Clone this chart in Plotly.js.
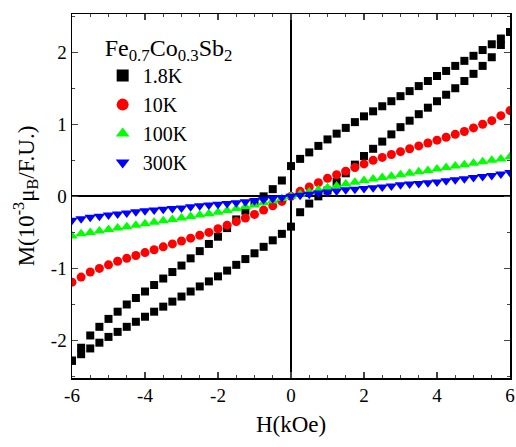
<!DOCTYPE html>
<html><head><script src="https://cdn.plot.ly/plotly-3.0.1.min.js"></script></head>
<body style="margin:0"><div id="g" style="width:516px;height:447px"></div>
<script>
const H=[-6,-5.75,-5.5,-5.25,-5,-4.75,-4.5,-4.25,-4,-3.75,-3.5,-3.25,-3,-2.75,-2.5,-2.25,-2,-1.75,-1.5,-1.25,-1,-0.75,-0.5,-0.25,0,0.25,0.5,0.75,1,1.25,1.5,1.75,2,2.25,2.5,2.75,3,3.25,3.5,3.75,4,4.25,4.5,4.75,5,5.25,5.5,5.75,6];
const m18Down=[-2.28,-2.1,-1.93,-1.81,-1.7,-1.6,-1.5,-1.41,-1.32,-1.23,-1.14,-1.05,-0.96,-0.86,-0.76,-0.66,-0.56,-0.44,-0.32,-0.2,-0.08,0,0.1,0.22,0.42,0.52,0.61,0.7,0.79,0.87,0.95,1.03,1.11,1.18,1.25,1.32,1.39,1.46,1.53,1.6,1.67,1.74,1.81,1.88,1.95,2.03,2.11,2.19,2.28];
const m18Up=[-2.28,-2.19,-2.11,-2.03,-1.95,-1.88,-1.81,-1.74,-1.67,-1.6,-1.53,-1.46,-1.39,-1.32,-1.25,-1.18,-1.11,-1.03,-0.95,-0.87,-0.79,-0.7,-0.61,-0.52,-0.42,-0.22,-0.1,0,0.08,0.2,0.32,0.44,0.56,0.66,0.76,0.86,0.96,1.05,1.14,1.23,1.32,1.41,1.5,1.6,1.7,1.81,1.93,2.1,2.28];
const m10=[-1.19,-1.12,-1.05,-1.0,-0.95,-0.9,-0.86,-0.82,-0.78,-0.74,-0.7,-0.66,-0.62,-0.58,-0.54,-0.5,-0.45,-0.4,-0.35,-0.3,-0.25,-0.19,-0.13,-0.07,0,0.07,0.13,0.19,0.25,0.3,0.35,0.4,0.45,0.5,0.54,0.58,0.62,0.66,0.7,0.74,0.78,0.82,0.86,0.9,0.95,1.0,1.05,1.12,1.19];
const m100=[-0.55,-0.52,-0.5,-0.48,-0.46,-0.44,-0.42,-0.4,-0.38,-0.36,-0.34,-0.32,-0.3,-0.28,-0.26,-0.24,-0.22,-0.195,-0.17,-0.145,-0.12,-0.09,-0.06,-0.03,0,0.03,0.06,0.09,0.12,0.145,0.17,0.195,0.22,0.24,0.26,0.28,0.3,0.32,0.34,0.36,0.38,0.4,0.42,0.44,0.46,0.48,0.5,0.52,0.55];
const m300=[-0.33,-0.31,-0.29,-0.275,-0.26,-0.245,-0.23,-0.215,-0.2,-0.19,-0.18,-0.17,-0.16,-0.145,-0.13,-0.12,-0.11,-0.1,-0.09,-0.075,-0.06,-0.045,-0.03,-0.015,0,0.015,0.03,0.045,0.06,0.075,0.09,0.1,0.11,0.12,0.13,0.145,0.16,0.17,0.18,0.19,0.2,0.215,0.23,0.245,0.26,0.275,0.29,0.31,0.33];
const names=['1.8K','10K','100K','300K'];
const xTicks=[-6,-4,-2,0,2,4,6], xLabels=['-6','-4','-2','0','2','4','6'];
const yTicks=[-2,-1,0,1,2], yLabels=['-2','-1','0','1','2'];
const tr=(x,y,n,c,s,sz)=>({x,y,name:n,mode:'markers',type:'scatter',marker:{color:c,symbol:s,size:sz}});
const data=[
 tr(H.concat(H),m18Down.concat(m18Up),names[0],'black','square',8),
 tr(H,m10,names[1],'red','circle',9),
 tr(H,m100,names[2],'#00ff00','triangle-up',10),
 tr(H,m300,names[3],'blue','triangle-down',10)];
const ax={showline:true,mirror:'ticks',linecolor:'black',linewidth:1.5,ticks:'inside',ticklen:6,tickwidth:1.2,
 zeroline:true,zerolinecolor:'black',zerolinewidth:2,showgrid:false,minor:{ticks:'inside',ticklen:3,tickwidth:1}};
Plotly.newPlot('g',data,{
 width:516,height:447,margin:{l:72,r:6,t:14,b:69},
 font:{family:'Liberation Serif',size:19,color:'black'},
 plot_bgcolor:'white',paper_bgcolor:'white',
 xaxis:Object.assign({},ax,{range:[-6,6],tickvals:xTicks,ticktext:xLabels,title:{text:'H(kOe)',standoff:10}}),
 yaxis:Object.assign({},ax,{range:[-2.52,2.53],tickvals:yTicks,ticktext:yLabels,title:{text:'M(10<sup>-3</sup>μ<sub>B</sub>/F.U.)',standoff:10}}),
 legend:{x:0.07,y:0.97,bgcolor:'rgba(0,0,0,0)',title:{text:'Fe<sub>0.7</sub>Co<sub>0.3</sub>Sb<sub>2</sub>'},font:{size:20},itemsizing:'constant',tracegroupgap:0},
 showlegend:true
},{staticPlot:true});
</script></body></html>
